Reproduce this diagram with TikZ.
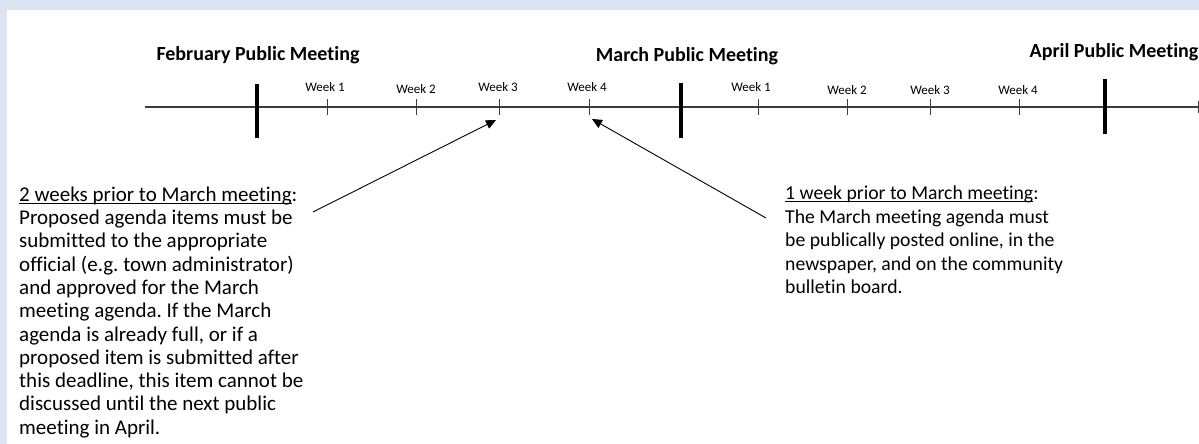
\documentclass[tikz,border=0pt]{standalone}
\usepackage{fontspec}
\setmainfont{Carlito}[Ligatures=NoCommon]
\usetikzlibrary{arrows.meta}
\definecolor{bgblue}{RGB}{219,229,241}
\definecolor{axisgray}{RGB}{60,60,60}
\newcommand{\myul}[1]{\leavevmode\setbox0\hbox{#1}\rlap{\rule[-2.4pt]{\wd0}{1pt}}\box0}
\tikzset{
  heading/.style={font=\bfseries\fontsize{20}{24}\selectfont, anchor=base, inner sep=0pt},
  weeklabel/.style={font=\fontsize{13}{15}\selectfont, anchor=base, inner sep=0pt},
  meettick/.style={line width=4pt, black},
  weektick/.style={line width=1pt, axisgray},
  axisline/.style={line width=1.3pt, axisgray},
  note/.style={align=left, anchor=north west, inner sep=0pt},
  pointer/.style={line width=0.9pt, black, -{Triangle[length=10pt,width=9pt]}}
}
\frenchspacing
\begin{document}
\begin{tikzpicture}[x=1pt,y=-1pt]
\useasboundingbox (0,0) rectangle (1199,444);
\fill[bgblue] (0,0) rectangle (1199,444);
\fill[white] (7,10) rectangle (1199,444);

% timeline axis
\coordinate (axisL) at (145,107);
\coordinate (axisR) at (1199,107);
\draw[axisline] (axisL) -- (axisR);
\draw[weektick] (1198,101) -- (1198,113);

% meeting ticks
\coordinate (feb) at (257,107);
\coordinate (mar) at (681,107);
\coordinate (apr) at (1105,107);
\draw[meettick] (257,84) -- (257,138);
\draw[meettick] (681,83) -- (681,138);
\draw[meettick] (1105,79) -- (1105,134);

% week ticks
\foreach \n/\x in {fw1/327, fw2/416, fw3/499, fw4/589, mw1/758, mw2/847, mw3/930, mw4/1019}{
  \coordinate (\n) at (\x,107);
  \draw[weektick] (\x,99) -- (\x,115);
}

% headings
\node[heading] (febH) at (258,61) {February Public Meeting};
\node[heading] (marH) at (687,62) {March Public Meeting};
\node[heading] (aprH) at (1114,58) {April Public Meeting};

% week labels
\node[weeklabel] (lfw1) at (325,92) {Week 1};
\node[weeklabel] (lfw2) at (416,93) {Week 2};
\node[weeklabel] (lfw3) at (498,92) {Week 3};
\node[weeklabel] (lfw4) at (587,91) {Week 4};
\node[weeklabel] (lmw1) at (751,92) {Week 1};
\node[weeklabel] (lmw2) at (847,94) {Week 2};
\node[weeklabel] (lmw3) at (930,94) {Week 3};
\node[weeklabel] (lmw4) at (1018,94) {Week 4};

% notes
\node[note, font=\fontsize{21}{23.3}\selectfont] (noteL) at (19,186.5) {\myul{2 weeks prior to March meeting}:\\
Proposed agenda items must be\\
submitted to the appropriate\\
official (e.g. town administrator)\\
and approved for the March\\
meeting agenda. If the March\\
agenda is already full, or if a\\
proposed item is submitted after\\
this deadline, this item cannot be\\
discussed until the next public\\
meeting in April.};
\node[note, font=\fontsize{19.7}{23.5}\selectfont] (noteR) at (785,186) {\myul{1 week prior to March meeting}:\\
The March meeting agenda must\\
be publically posted online, in the\\
newspaper, and on the community\\
bulletin board.};

% pointers
\coordinate (startL) at (313,212);
\coordinate (tipL) at (496,120);
\coordinate (startR) at (766,218);
\coordinate (tipR) at (592,119);
\draw[pointer] (startL) -- (tipL);
\draw[pointer] (startR) -- (tipR);
\end{tikzpicture}
\end{document}
